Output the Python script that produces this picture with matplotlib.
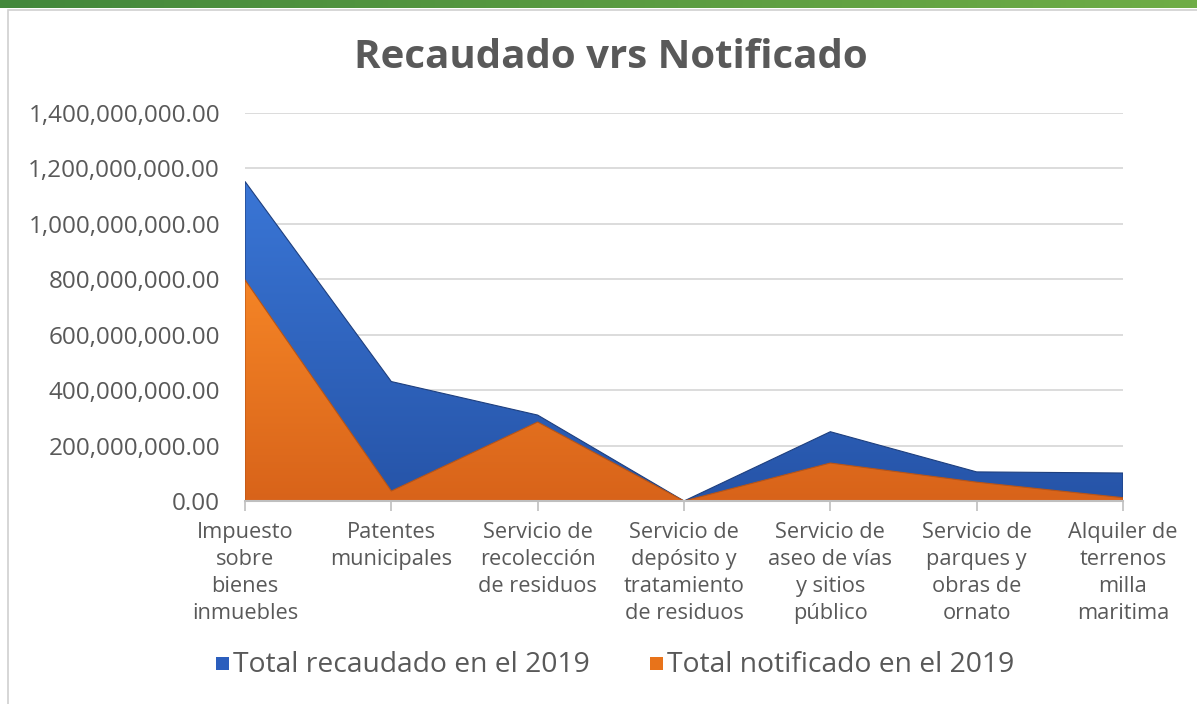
import numpy as np
import matplotlib
matplotlib.use("Agg")
import matplotlib.pyplot as plt
from matplotlib.colors import LinearSegmentedColormap
from matplotlib.patches import Rectangle
from matplotlib.ticker import FuncFormatter

GRAY, GRID = "#595959", "#D9D9D9"

categorias = ["Impuesto\nsobre\nbienes\ninmuebles", "Patentes\nmunicipales",
              "Servicio de\nrecolección\nde residuos", "Servicio de\ndepósito y\ntratamiento\nde residuos",
              "Servicio de\naseo de vías\ny sitios\npúblico", "Servicio de\nparques y\nobras de\nornato",
              "Alquiler de\nterrenos\nmilla\nmaritima"]
recaudado = [1153e6, 431e6, 310e6, 0, 250e6, 105e6, 101e6]
notificado = [798e6, 36e6, 285e6, 0, 137e6, 68e6, 12e6]
yticks = [0, 200e6, 400e6, 600e6, 800e6, 1000e6, 1200e6, 1400e6]

plt.rcParams["font.family"] = ["Open Sans", "DejaVu Sans"]

fig = plt.figure(figsize=(11.97, 7.04), dpi=100)
# green strip on top + light frame
strip = fig.add_axes([0, 1 - 8/704, 1, 8/704])
strip.imshow(np.linspace(0, 1, 256).reshape(1, -1), aspect="auto",
             cmap=LinearSegmentedColormap.from_list("gr", ["#43883C", "#6FAD47"]))
strip.axis("off")
fig.add_artist(Rectangle((8/1197, -0.01), 1.0, 1 - 10/704 + 0.01, transform=fig.transFigure,
                         facecolor="none", edgecolor="#D0D0D0", lw=1.2))

ax = fig.add_axes([245/1197, 1 - 501/704, 878/1197, 388/704])
x = np.arange(len(categorias))


def grad_area(vals, c_top, c_bot, edge, z):
    poly, = ax.fill(np.r_[x, x[::-1]], np.r_[vals, np.zeros(len(vals))],
                    facecolor="none", edgecolor=edge, lw=0.8, zorder=z + 0.1)
    cmap = LinearSegmentedColormap.from_list("g", [c_bot, c_top])
    im = ax.imshow(np.linspace(0, 1, 256).reshape(-1, 1), cmap=cmap, origin="lower",
                   extent=[0, len(vals) - 1, 0, max(vals)], aspect="auto", zorder=z)
    im.set_clip_path(poly)


grad_area(recaudado, "#3A76D6", "#2654A8", "#1E3F7E", 2)
grad_area(notificado, "#F58526", "#D8631A", "#B85416", 3)

ax.set_xlim(0, len(categorias) - 1)
ax.set_ylim(0, 1.4e9)
ax.set_yticks(yticks)
ax.yaxis.set_major_formatter(FuncFormatter(lambda v, p: f"{v:,.2f}"))
ax.set_xticks(x)
ax.set_xticklabels(categorias, fontsize=15.7, color=GRAY, linespacing=1.38)
ax.tick_params(axis="y", length=0, labelsize=17.5, labelcolor=GRAY, pad=18)
ax.tick_params(axis="x", length=7, color="#BFBFBF", width=1.2, pad=8)
ax.grid(axis="y", color=GRID, lw=1.3)
ax.set_axisbelow(True)
for s in ["top", "right", "left"]:
    ax.spines[s].set_visible(False)
ax.spines["bottom"].set_color("#BFBFBF")
ax.spines["bottom"].set_linewidth(1.5)
ax.spines["bottom"].set_zorder(5)

fig.text(0.51, 1 - 58/704, "Recaudado vrs Notificado", ha="center", va="center",
         fontsize=29, fontweight="bold", color=GRAY)

# legend
leg_items = [("Total recaudado en el 2019", "#2B5EBD", 216), ("Total notificado en el 2019", "#E8731A", 650)]
for label, col, px in leg_items:
    fig.add_artist(Rectangle((px/1197, 1 - 670/704), 13/1197, 13/704, transform=fig.transFigure,
                             facecolor=col, edgecolor="none"))
    fig.text((px + 17)/1197, 1 - 665/704, label, ha="left", va="center", fontsize=20.3, color=GRAY)

fig.savefig("out.png", dpi=100, facecolor="white")
